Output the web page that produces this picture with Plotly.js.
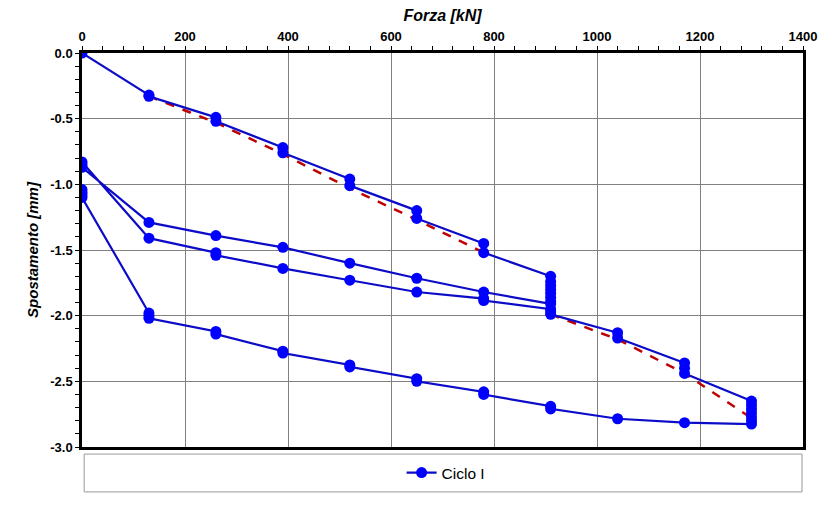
<!DOCTYPE html>
<html>
<head>
<meta charset="utf-8">
<script src="https://cdn.plot.ly/plotly-3.0.1.min.js"></script>
<style>
    body { margin: 0; background: #fff; }
    #chart { width: 836px; height: 516px; }
</style>
</head>
<body>
<div id="chart"></div>
<script>
// Ciclo I, in order of reading (load in kN, displacement in mm)
let forceCycle = [
    0,
    130, 130,
    260, 260,
    390, 390,
    520, 520,
    650, 650,
    780, 780,
    910, 910, 910, 910, 910, 910, 910, 910,
    // first unloading
    780, 650, 520, 390, 260, 130, 0, 0, 0,
    // reloading
    130, 260, 260, 390, 520, 650, 780, 780, 910, 910, 910,
    1040, 1040,
    1170, 1170, 1170,
    1300, 1300, 1300, 1300, 1300, 1300, 1300,
    // final unloading
    1170, 1040, 910, 910, 780, 780, 650, 650, 520, 520,
    390, 390, 260, 260, 130, 130, 130, 0, 0, 0, 0
];
let dispCycle = [
    0.00,
    -0.32, -0.33,
    -0.49, -0.52,
    -0.72, -0.76,
    -0.96, -1.01,
    -1.20, -1.26,
    -1.45, -1.52,
    -1.70, -1.74, -1.77, -1.80, -1.83, -1.86, -1.89, -1.91,
    -1.82, -1.715, -1.60, -1.48, -1.39, -1.29, -0.87, -0.85, -0.83,
    -1.41, -1.52, -1.54, -1.64, -1.73, -1.82, -1.87, -1.885, -1.95, -1.97, -1.99,
    -2.13, -2.17,
    -2.36, -2.40, -2.44,
    -2.65, -2.68, -2.71, -2.74, -2.77, -2.80, -2.825,
    -2.815, -2.785, -2.71, -2.69, -2.60, -2.58, -2.50, -2.48, -2.39, -2.375,
    -2.285, -2.27, -2.14, -2.12, -2.02, -2.00, -1.98, -1.10, -1.08, -1.06, -1.04
];

// red dashed envelope (gap between 780 and 910)
let forceEnvelope = [130, 260, 390, 520, 650, 780, null, 910, 1040, 1170, 1300];
let dispEnvelope = [-0.33, -0.53, -0.77, -1.03, -1.27, -1.52, null, -1.99, -2.18, -2.44, -2.78];

// y tick labels, written with a plain hyphen like the original
let yTickValues = [0, -0.5, -1, -1.5, -2, -2.5, -3];
let yTickLabels = ['0.0', '-0.5', '-1.0', '-1.5', '-2.0', '-2.5', '-3.0'];

const FONT = 'Arial, "Liberation Sans", sans-serif';

let envelope = {
    x: forceEnvelope,
    y: dispEnvelope,
    type: 'scatter',
    mode: 'lines',
    showlegend: false,
    connectgaps: false,
    line: {
        color: '#c00000',
        width: 2.5,
        dash: 'dash'
    },
    hoverinfo: 'skip'
}

let cycle = {
    x: forceCycle,
    y: dispCycle,
    name: 'Ciclo I',
    type: 'scatter',
    mode: 'lines+markers',
    line: {
        color: '#0c0cc8',
        width: 2.2
    },
    marker: {
        color: '#0000ff',
        size: 11
    }
}

let data = [envelope, cycle];

// Layout of the chart
let layout = {
    width: 836,
    height: 516,
    paper_bgcolor: '#fff',
    plot_bgcolor: '#fff',
    font: {
        family: FONT,
        color: '#000'
    },
    margin: {
        l: 82,
        r: 33,
        t: 53,
        b: 69
    },
    showlegend: true,
    legend: {
        orientation: 'h',
        x: 0.505,
        xanchor: 'center',
        y: -0.066,
        yanchor: 'middle',
        font: { family: FONT, size: 15.5, color: '#000' },
        bgcolor: 'rgba(0,0,0,0)'
    },
    xaxis: {
        side: 'top',
        range: [0, 1400],
        dtick: 200,
        showgrid: true,
        gridcolor: '#808080',
        gridwidth: 1,
        zeroline: false,
        showline: true,
        linecolor: '#000',
        linewidth: 2.5,
        mirror: true,
        ticks: 'outside',
        ticklen: 4,
        tickcolor: '#000',
        minor: {
            dtick: 40,
            ticks: 'outside',
            ticklen: 4,
            tickcolor: '#000',
            showgrid: false
        },
        tickfont: { family: FONT, size: 13, weight: 'bold' },
        title: {
            text: '<b><i>Forza [kN]</i></b>',
            font: { family: FONT, size: 16 },
            standoff: 4
        }
    },
    yaxis: {
        range: [-3, 0],
        tickmode: 'array',
        tickvals: yTickValues,
        ticktext: yTickLabels,
        showgrid: true,
        gridcolor: '#808080',
        gridwidth: 1,
        zeroline: false,
        showline: true,
        linecolor: '#000',
        linewidth: 2.5,
        mirror: true,
        ticks: 'outside',
        ticklen: 4,
        tickcolor: '#000',
        minor: {
            dtick: 0.1,
            ticks: 'outside',
            ticklen: 4,
            tickcolor: '#000',
            showgrid: false
        },
        tickfont: { family: FONT, size: 13, weight: 'bold' },
        title: {
            text: '<b><i>Spostamento [mm]</i></b>',
            font: { family: FONT, size: 15 },
            standoff: 8
        }
    },
    shapes: [{
        // legend frame spanning the plot width
        type: 'rect',
        xref: 'paper',
        yref: 'paper',
        x0: 0.003,
        x1: 0.9986,
        y0: -0.114,
        y1: -0.018,
        line: { color: '#999', width: 1 },
        fillcolor: 'rgba(0,0,0,0)'
    }]
}

// General chart configuration
let config = {
    displayModeBar: false,
    responsive: false
}

let htmlElement = document.getElementById('chart');
htmlElement.innerHTML = '';
Plotly.newPlot(htmlElement, data, layout, config);
</script>
</body>
</html>
